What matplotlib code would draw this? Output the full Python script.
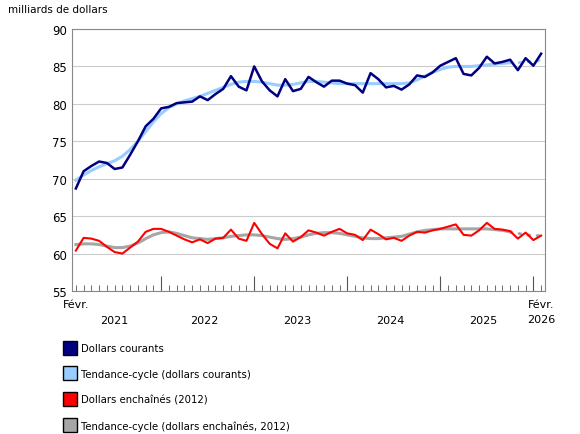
import matplotlib
matplotlib.use("Agg")
import matplotlib.pyplot as plt
import numpy as np
from matplotlib.lines import Line2D

plt.rcParams['font.family'] = ['Verdana', 'DejaVu Sans']

# Monthly series Feb 2021 .. Feb 2026
courants = [68.7, 71.0, 71.7, 72.3, 72.1, 71.3, 71.5, 73.2, 75.0, 77.0, 78.0,
            79.4, 79.6, 80.1, 80.2, 80.3, 81.0, 80.5, 81.3, 82.0, 83.7, 82.3, 81.8,
            85.0, 83.0, 81.8, 81.0, 83.3, 81.7, 82.0, 83.6, 82.9, 82.3, 83.1, 83.1,
            82.7, 82.5, 81.5, 84.1, 83.3, 82.2, 82.4, 81.9, 82.6, 83.8, 83.6, 84.2,
            85.1, 85.6, 86.1, 84.0, 83.8, 84.8, 86.3, 85.4, 85.6, 85.9, 84.5, 86.1,
            85.1, 86.7]
tendance_courants = [69.8, 70.5, 71.1, 71.6, 72.0, 72.4, 73.0, 73.9, 75.0, 76.3,
                     77.6, 78.7, 79.5, 80.0, 80.4, 80.7, 81.0, 81.4, 81.8, 82.2,
                     82.6, 82.9, 83.0, 83.0, 82.9, 82.7, 82.5, 82.5, 82.6, 82.8,
                     83.0, 83.0, 82.9, 82.8, 82.7, 82.7, 82.7, 82.7, 82.7, 82.7,
                     82.7, 82.7, 82.7, 82.8, 83.2, 83.7, 84.2, 84.6, 84.9, 85.0,
                     85.0, 85.0, 85.1, 85.2, 85.3, 85.4, 85.5, 85.5, 85.6, 85.7, 85.8]
enchaines = [60.4, 62.1, 62.0, 61.7, 60.9, 60.2, 60.0, 60.8, 61.6, 62.9, 63.3,
             63.3, 62.9, 62.4, 61.9, 61.5, 61.9, 61.4, 62.0, 62.1, 63.2, 62.0, 61.7,
             64.1, 62.6, 61.3, 60.7, 62.7, 61.6, 62.2, 63.1, 62.8, 62.4, 62.9, 63.3,
             62.7, 62.5, 61.8, 63.2, 62.6, 61.9, 62.1, 61.7, 62.4, 62.9, 62.8, 63.1,
             63.3, 63.6, 63.9, 62.5, 62.4, 63.1, 64.1, 63.3, 63.2, 63.0, 62.0, 62.8,
             61.8, 62.4]
tendance_enchaines = [61.2, 61.3, 61.3, 61.2, 61.0, 60.8, 60.8, 61.0, 61.4, 62.0,
                      62.5, 62.8, 62.9, 62.7, 62.4, 62.1, 62.0, 61.9, 62.0, 62.1,
                      62.3, 62.4, 62.5, 62.5, 62.4, 62.2, 62.0, 61.9, 62.0, 62.2,
                      62.5, 62.7, 62.8, 62.8, 62.7, 62.5, 62.3, 62.1, 62.0, 62.0,
                      62.1, 62.2, 62.3, 62.6, 62.9, 63.1, 63.2, 63.3, 63.3, 63.3,
                      63.3, 63.3, 63.3, 63.3, 63.2, 63.1, 62.9, 62.7, 62.5, 62.4, 62.4]
annees = ['2021', '2022', '2023', '2024', '2025', '2026']

x = np.arange(len(courants))
n_dot = 4  # dernières valeurs de tendance en pointillé

fig = plt.figure(figsize=(5.8, 4.35), dpi=100)
ax = fig.add_axes([72 / 580, 1 - 292 / 435, (545 - 72) / 580, (292 - 30) / 435])

ax.set_ylim(55, 90)
ax.set_xlim(-0.5, len(x) - 0.5)
ax.set_yticks(range(55, 91, 5))
ax.grid(axis='y', color='#cccccc', linewidth=0.8)
ax.set_axisbelow(True)
for s in ax.spines.values():
    s.set_color('#888888')

blue_t = '#99ccff'
grey_t = '#a6a6a6'
k = len(x) - n_dot
ax.plot(x[:k], tendance_courants[:k], color=blue_t, lw=2.2)
ax.plot(x[k - 1:], tendance_courants[k - 1:], color=blue_t, lw=2.2, ls=(0, (0.5, 2.5)),
        dash_capstyle='round')
ax.plot(x[:k], tendance_enchaines[:k], color=grey_t, lw=2.2)
ax.plot(x[k - 1:], tendance_enchaines[k - 1:], color=grey_t, lw=2.2, ls=(0, (0.5, 2.5)),
        dash_capstyle='round')
ax.plot(x, courants, color='#000080', lw=1.8)
ax.plot(x, enchaines, color='#ff0000', lw=1.5)

# ticks: minor each month, major at January
ax.set_xticks(x, minor=True)
jan = [i for i in x if (i + 1) % 12 == 0]
ax.set_xticks(jan)
ax.set_xticklabels([])
ax.tick_params(axis='x', which='minor', direction='in', length=4, color='#555555')
ax.tick_params(axis='x', which='major', direction='in', length=11, color='#555555')
ax.tick_params(axis='y', length=0, labelsize=8.5)

# year labels
starts = [0] + jan
ends = jan + [len(x)]
for i, yr in enumerate(annees):
    if yr == '2026':
        continue
    mid = (starts[i] + ends[i] - 1) / 2
    ax.text(mid, -0.09, yr, transform=ax.get_xaxis_transform(), ha='center', va='top', fontsize=8)
ax.text(0, -0.03, 'Févr.', transform=ax.get_xaxis_transform(), ha='center', va='top', fontsize=8)
ax.text(x[-1], -0.03, 'Févr.\n2026', transform=ax.get_xaxis_transform(), ha='center', va='top',
        fontsize=8, linespacing=1.6)

fig.text(8 / 580, 1 - 10 / 435, 'milliards de dollars', fontsize=7.5, va='center')

handles = [
    Line2D([], [], marker='s', ls='', markersize=10, markerfacecolor='#000080', markeredgecolor='black'),
    Line2D([], [], marker='s', ls='', markersize=10, markerfacecolor=blue_t, markeredgecolor='black'),
    Line2D([], [], marker='s', ls='', markersize=10, markerfacecolor='#ff0000', markeredgecolor='black'),
    Line2D([], [], marker='s', ls='', markersize=10, markerfacecolor=grey_t, markeredgecolor='black'),
]
labels = ['Dollars courants', 'Tendance-cycle (dollars courants)',
          'Dollars enchaînés (2012)', 'Tendance-cycle (dollars enchaînés, 2012)']
fig.legend(handles, labels, loc='upper left', bbox_to_anchor=(55 / 580, 1 - 335 / 435),
           frameon=False, fontsize=7.3, labelspacing=1.55, handletextpad=0.5, handlelength=1.2)

fig.savefig('out.png', dpi=100)
